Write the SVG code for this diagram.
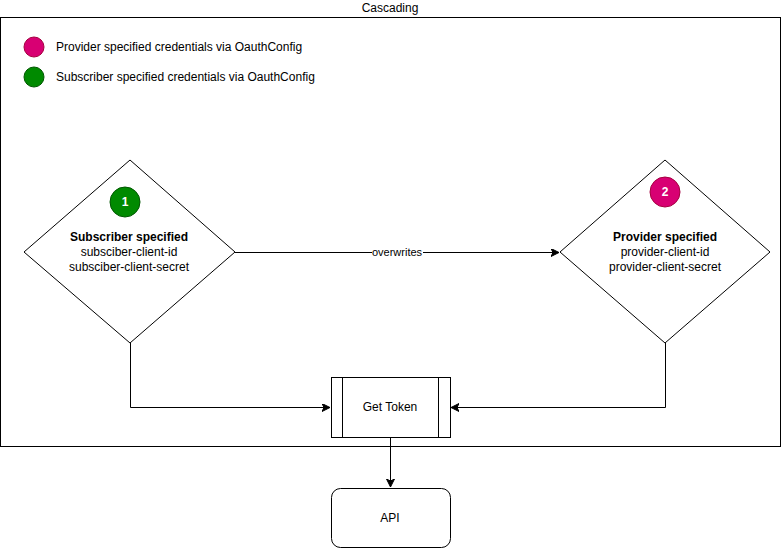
<svg xmlns="http://www.w3.org/2000/svg" width="781" height="548" viewBox="0 0 781 548">
<style>
text{font-family:"Liberation Sans",Arial,sans-serif;font-size:12px;fill:#000}
.c{text-anchor:middle}
.b{font-weight:bold}
.shape{fill:#fff;stroke:#000;stroke-width:1}
.edge{fill:none;stroke:#000;stroke-width:1}
.num{fill:#fff;text-anchor:middle;font-size:12px}
</style>
<defs>
<marker id="arr" markerWidth="10" markerHeight="10" refX="8" refY="4" orient="auto" markerUnits="userSpaceOnUse">
<path d="M0,0 L8,4 L0,8 L2,4 Z" fill="#000" stroke="#000" stroke-width="1"/>
</marker>
</defs>
<g id="container">
<rect x="0.5" y="17.5" width="780" height="429" fill="#fff" stroke="#000"/>
<text class="c" x="390" y="12">Cascading</text>
</g>
<g id="legend">
<circle cx="34" cy="47" r="10" fill="#d80073" stroke="#a50040"/>
<text x="56" y="51">Provider specified credentials via OauthConfig</text>
<circle cx="34" cy="77" r="10" fill="#008a00" stroke="#005700"/>
<text x="56" y="81">Subscriber specified credentials via OauthConfig</text>
</g>
<g id="connectors">
<path class="edge" d="M235,252.5 H559" marker-end="url(#arr)"/>
<rect x="372" y="245" width="51" height="14" fill="#fff"/>
<text class="c" x="397" y="256" style="font-size:11px">overwrites</text>
<path class="edge" d="M130.5,343 V407.5 H330" marker-end="url(#arr)"/>
<path class="edge" d="M665.5,343 V407.5 H451" marker-end="url(#arr)"/>
<path class="edge" d="M390.5,438 V487" marker-end="url(#arr)"/>
</g>
<g id="subscriber">
<path class="shape" d="M130,160 L235,252 L130,343 L24,252 Z"/>
<circle cx="125" cy="202" r="15" fill="#008a00" stroke="#005700"/>
<text class="num b" x="125" y="206">1</text>
<text class="c b" x="129" y="241">Subscriber specified</text>
<text class="c" x="129" y="256">subsciber-client-id</text>
<text class="c" x="129" y="271">subsciber-client-secret</text>
</g>
<g id="provider">
<path class="shape" d="M665,160 L770,252 L665,343 L560,252 Z"/>
<circle cx="665" cy="192" r="15" fill="#d80073" stroke="#a50040"/>
<text class="num b" x="665" y="196">2</text>
<text class="c b" x="665" y="241">Provider specified</text>
<text class="c" x="665" y="256">provider-client-id</text>
<text class="c" x="665" y="271">provider-client-secret</text>
</g>
<g id="gettoken">
<rect class="shape" x="331.5" y="377.5" width="119" height="60"/>
<path class="edge" d="M342.5,377.5 V437.5 M438.5,377.5 V437.5"/>
<text class="c" x="390" y="411">Get Token</text>
</g>
<g id="api">
<rect class="shape" x="331.5" y="488.5" width="119" height="59" rx="9" ry="9"/>
<text class="c" x="390" y="522">API</text>
</g>
</svg>
